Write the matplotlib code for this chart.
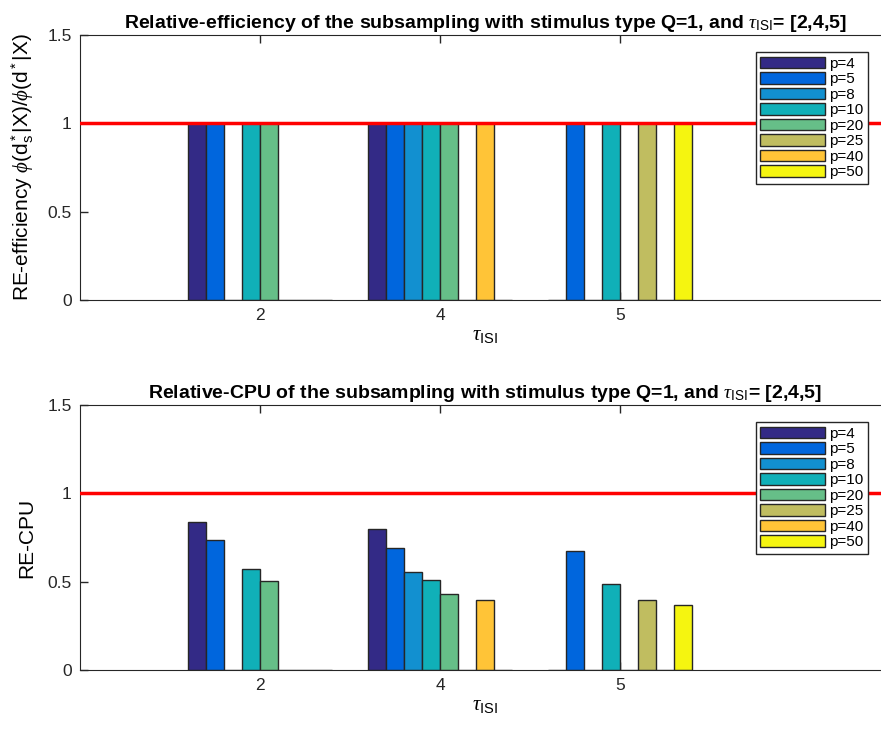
"""Relative efficiency / relative CPU of subsampling, Q=1, tau_ISI = [2,4,5]."""

import matplotlib

matplotlib.use("Agg")
import matplotlib.pyplot as plt  # noqa: E402
import numpy as np  # noqa: E402

TAU = ["2", "4", "5"]
P_LABELS = ["p=4", "p=5", "p=8", "p=10", "p=20", "p=25", "p=40", "p=50"]
COLORS = ["#332a86", "#0066dd", "#1290d0", "#10b0b8",
          "#66bf88", "#c0bd60", "#ffc437", "#f5f510"]

# rows = tau_ISI (2, 4, 5), cols = p
RE_EFF = [
    [1, 1, 0, 1, 1, 0, 0, 0],
    [1, 1, 1, 1, 1, 0, 1, 0],
    [0, 1, 0, 1, 0, 1, 0, 1],
]
RE_CPU = [
    [0.835, 0.738, 0, 0.573, 0.506, 0, 0, 0],
    [0.796, 0.690, 0.556, 0.510, 0.433, 0, 0.399, 0],
    [0, 0.675, 0, 0.486, 0, 0.397, 0, 0.370],
]

plt.rcParams.update({
    "font.family": ["Liberation Sans", "DejaVu Sans"],
    "mathtext.fontset": "custom",
    "mathtext.rm": "Liberation Sans",
    "mathtext.it": "Liberation Serif:italic",
    "axes.edgecolor": "#262626",
    "xtick.color": "#262626",
    "ytick.color": "#262626",
})

fig = plt.figure(figsize=(8.81, 7.29), dpi=100)
AX_LEFT = 80 / 881
AX_W = 4.5 * 180 / 881
ax_top = fig.add_axes([AX_LEFT, 1 - 300 / 729, AX_W, 265 / 729])
ax_bot = fig.add_axes([AX_LEFT, 1 - 670 / 729, AX_W, 265 / 729])

tau_tex = r"$\tau_{\mathrm{ISI}}$"
panels = [
    (ax_top, RE_EFF,
     "Relative-efficiency of the subsampling with stimulus type Q=1, and " + tau_tex + "= [2,4,5]",
     r"RE-efficiency $\phi(\mathrm{d}_\mathrm{s}^*|\mathrm{X})/\phi(\mathrm{d}^*|\mathrm{X})$"),
    (ax_bot, RE_CPU,
     "Relative-CPU of the subsampling with stimulus type Q=1, and " + tau_tex + "= [2,4,5]",
     "RE-CPU"),
]

x = np.arange(1, len(TAU) + 1)
width = 0.1
for ax, data, title, ylab in panels:
    vals = np.array(data)
    for j, lab in enumerate(P_LABELS):
        ax.bar(x + (j - 3.5) * width, vals[:, j], width=width, color=COLORS[j],
               edgecolor="#262626", linewidth=1.0, label=lab, zorder=2)
    ax.axhline(1, color="red", lw=2.5, zorder=3)
    ax.set_xlim(0, 4.5)
    ax.set_ylim(0, 1.5)
    ax.set_xticks(x)
    ax.set_xticklabels(TAU)
    ax.set_yticks([0, 0.5, 1, 1.5])
    ax.set_yticklabels(["0", "0.5", "1", "1.5"])
    ax.tick_params(direction="in", length=6, width=1, labelsize=12.5, top=True, right=True, pad=6)
    ax.set_xlabel(tau_tex, fontsize=15, labelpad=2)
    ax.set_ylabel(ylab, fontsize=15, labelpad=8)
    ax.set_title(title, fontsize=14, fontweight="bold", pad=5)
    ax.legend(loc="upper right", bbox_to_anchor=(868 / 881, ax.get_position().y1 - 17 / 729),
              bbox_transform=fig.transFigure, borderaxespad=0, fontsize=11,
              handlelength=4.2, handleheight=0.8, handletextpad=0.3, labelspacing=0.09,
              borderpad=0.3, frameon=True, fancybox=False, edgecolor="#262626",
              framealpha=1)

fig.savefig("out.png", dpi=100, facecolor="white")
